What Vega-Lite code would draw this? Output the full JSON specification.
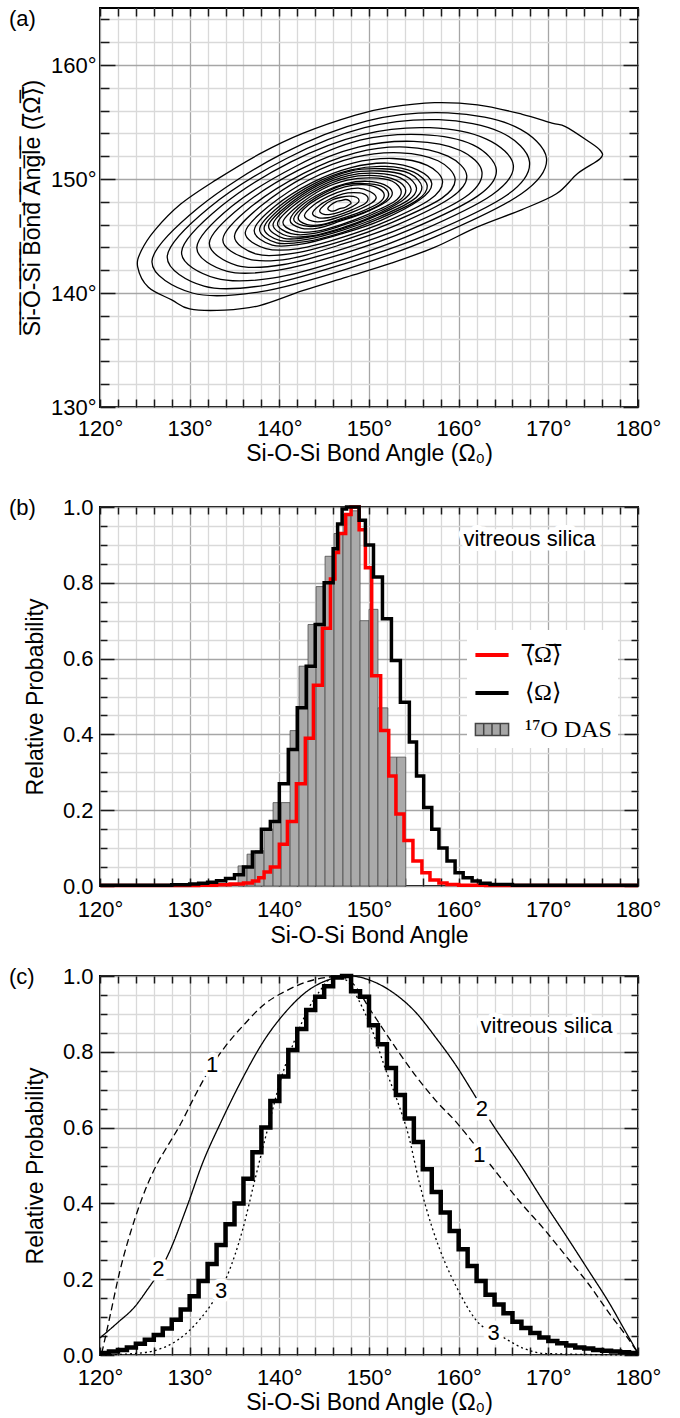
{
"$schema": "https://vega.github.io/schema/vega-lite/v6.json",
"background": "white",
"padding": {"left": 8, "top": 6, "right": 4, "bottom": 0},
"config": {
  "view": {"stroke": "#000", "strokeWidth": 2},
  "axis": {"domain": false, "labelFont": "Liberation Sans", "labelFontSize": 22, "labelColor": "#000", "titleFont": "Liberation Sans", "titleFontSize": 23, "titleFontWeight": "normal", "titleColor": "#000", "tickColor": "#1a1a1a", "tickWidth": 1.5, "gridWidth": 1.3, "labelOverlap": false, "labelBound": false, "labelFlush": false},
  "title": {"anchor": "start", "frame": "group", "dx": -91, "dy": 22, "baseline": "top", "offset": -2, "font": "Liberation Sans", "fontSize": 22, "fontWeight": "normal", "color": "#000"}
},
"datasets": {
"contours": [
{"c":0,"x":124.2,"y":142.3},{"c":0,"x":125.4,"y":140.5},{"c":0,"x":128.0,"y":139.4},{"c":0,"x":130.0,"y":138.6},{"c":0,"x":133.9,"y":138.5},{"c":0,"x":137.8,"y":138.9},{"c":0,"x":142.6,"y":140.2},{"c":0,"x":147.5,"y":141.4},{"c":0,"x":152.4,"y":142.6},{"c":0,"x":157.3,"y":144.0},{"c":0,"x":162.1,"y":145.8},{"c":0,"x":167.0,"y":147.3},{"c":0,"x":170.9,"y":148.7},{"c":0,"x":173.3,"y":150.5},{"c":0,"x":175.8,"y":151.8},{"c":0,"x":175.8,"y":152.5},{"c":0,"x":174.3,"y":153.4},{"c":0,"x":171.9,"y":154.6},{"c":0,"x":170.4,"y":154.9},{"c":0,"x":167.0,"y":155.7},{"c":0,"x":162.1,"y":156.5},{"c":0,"x":157.3,"y":156.7},{"c":0,"x":152.4,"y":156.3},{"c":0,"x":148.5,"y":155.6},{"c":0,"x":142.6,"y":154.0},{"c":0,"x":137.8,"y":152.2},{"c":0,"x":132.9,"y":149.9},{"c":0,"x":129.0,"y":147.8},{"c":0,"x":126.1,"y":145.5},{"c":0,"x":124.6,"y":143.7},
{"c":1,"x":169.8,"y":151.8},{"c":1,"x":166.3,"y":154.6},{"c":1,"x":158.8,"y":155.8},{"c":1,"x":149.8,"y":155.1},{"c":1,"x":140.3,"y":152.2},{"c":1,"x":131.0,"y":147.5},{"c":1,"x":125.8,"y":142.8},{"c":1,"x":130.3,"y":140.0},{"c":1,"x":137.8,"y":140.1},{"c":1,"x":147.5,"y":142.1},{"c":1,"x":157.3,"y":144.9},{"c":1,"x":167.0,"y":148.7},
{"c":2,"x":167.9,"y":151.5},{"c":2,"x":164.7,"y":154.1},{"c":2,"x":157.8,"y":155.2},{"c":2,"x":149.5,"y":154.5},{"c":2,"x":140.8,"y":151.8},{"c":2,"x":132.2,"y":147.5},{"c":2,"x":127.5,"y":143.2},{"c":2,"x":131.6,"y":140.6},{"c":2,"x":138.5,"y":140.7},{"c":2,"x":147.4,"y":142.6},{"c":2,"x":156.4,"y":145.1},{"c":2,"x":165.4,"y":148.6},
{"c":3,"x":166.1,"y":151.2},{"c":3,"x":163.1,"y":153.5},{"c":3,"x":156.8,"y":154.5},{"c":3,"x":149.3,"y":153.9},{"c":3,"x":141.3,"y":151.5},{"c":3,"x":133.5,"y":147.6},{"c":3,"x":129.1,"y":143.6},{"c":3,"x":132.9,"y":141.3},{"c":3,"x":139.2,"y":141.3},{"c":3,"x":147.4,"y":143.0},{"c":3,"x":155.6,"y":145.4},{"c":3,"x":163.7,"y":148.6},
{"c":4,"x":164.2,"y":150.8},{"c":4,"x":161.6,"y":153.0},{"c":4,"x":155.9,"y":153.9},{"c":4,"x":149.0,"y":153.4},{"c":4,"x":141.8,"y":151.1},{"c":4,"x":134.7,"y":147.6},{"c":4,"x":130.8,"y":144.0},{"c":4,"x":134.2,"y":141.9},{"c":4,"x":139.9,"y":142.0},{"c":4,"x":147.3,"y":143.5},{"c":4,"x":154.7,"y":145.6},{"c":4,"x":162.1,"y":148.5},
{"c":5,"x":162.6,"y":150.6},{"c":5,"x":160.2,"y":152.5},{"c":5,"x":155.0,"y":153.3},{"c":5,"x":148.8,"y":152.8},{"c":5,"x":142.2,"y":150.8},{"c":5,"x":135.8,"y":147.6},{"c":5,"x":132.2,"y":144.4},{"c":5,"x":135.3,"y":142.4},{"c":5,"x":140.5,"y":142.5},{"c":5,"x":147.2,"y":143.9},{"c":5,"x":154.0,"y":145.8},{"c":5,"x":160.7,"y":148.4},
{"c":6,"x":160.9,"y":150.3},{"c":6,"x":158.8,"y":152.0},{"c":6,"x":154.1,"y":152.8},{"c":6,"x":148.5,"y":152.3},{"c":6,"x":142.7,"y":150.5},{"c":6,"x":136.9,"y":147.6},{"c":6,"x":133.7,"y":144.7},{"c":6,"x":136.5,"y":143.0},{"c":6,"x":141.1,"y":143.0},{"c":6,"x":147.1,"y":144.3},{"c":6,"x":153.2,"y":146.0},{"c":6,"x":159.2,"y":148.4},
{"c":7,"x":159.6,"y":150.0},{"c":7,"x":157.7,"y":151.6},{"c":7,"x":153.5,"y":152.3},{"c":7,"x":148.4,"y":151.9},{"c":7,"x":143.1,"y":150.3},{"c":7,"x":137.9,"y":147.6},{"c":7,"x":135.0,"y":145.0},{"c":7,"x":137.5,"y":143.4},{"c":7,"x":141.7,"y":143.5},{"c":7,"x":147.1,"y":144.6},{"c":7,"x":152.6,"y":146.2},{"c":7,"x":158.1,"y":148.3},
{"c":8,"x":158.2,"y":149.8},{"c":8,"x":156.5,"y":151.2},{"c":8,"x":152.7,"y":151.8},{"c":8,"x":148.2,"y":151.4},{"c":8,"x":143.5,"y":150.0},{"c":8,"x":138.8,"y":147.6},{"c":8,"x":136.2,"y":145.3},{"c":8,"x":138.5,"y":143.9},{"c":8,"x":142.2,"y":143.9},{"c":8,"x":147.1,"y":144.9},{"c":8,"x":152.0,"y":146.3},{"c":8,"x":156.8,"y":148.2},
{"c":9,"x":157.0,"y":149.6},{"c":9,"x":155.4,"y":150.8},{"c":9,"x":152.1,"y":151.4},{"c":9,"x":148.0,"y":151.0},{"c":9,"x":143.7,"y":149.7},{"c":9,"x":139.5,"y":147.6},{"c":9,"x":137.2,"y":145.5},{"c":9,"x":139.2,"y":144.2},{"c":9,"x":142.6,"y":144.3},{"c":9,"x":147.0,"y":145.2},{"c":9,"x":151.4,"y":146.4},{"c":9,"x":155.7,"y":148.2},
{"c":10,"x":155.9,"y":149.3},{"c":10,"x":154.5,"y":150.5},{"c":10,"x":151.5,"y":150.9},{"c":10,"x":147.9,"y":150.7},{"c":10,"x":144.1,"y":149.5},{"c":10,"x":140.4,"y":147.6},{"c":10,"x":138.3,"y":145.7},{"c":10,"x":140.1,"y":144.6},{"c":10,"x":143.1,"y":144.7},{"c":10,"x":147.0,"y":145.5},{"c":10,"x":150.9,"y":146.6},{"c":10,"x":154.8,"y":148.1},
{"c":11,"x":154.7,"y":149.1},{"c":11,"x":153.5,"y":150.1},{"c":11,"x":150.9,"y":150.5},{"c":11,"x":147.7,"y":150.3},{"c":11,"x":144.4,"y":149.3},{"c":11,"x":141.1,"y":147.6},{"c":11,"x":139.3,"y":146.0},{"c":11,"x":140.9,"y":145.0},{"c":11,"x":143.5,"y":145.0},{"c":11,"x":146.9,"y":145.7},{"c":11,"x":150.3,"y":146.7},{"c":11,"x":153.7,"y":148.1},
{"c":12,"x":153.6,"y":148.9},{"c":12,"x":152.6,"y":149.8},{"c":12,"x":150.3,"y":150.1},{"c":12,"x":147.6,"y":149.9},{"c":12,"x":144.8,"y":149.1},{"c":12,"x":142.0,"y":147.6},{"c":12,"x":140.4,"y":146.2},{"c":12,"x":141.8,"y":145.4},{"c":12,"x":144.0,"y":145.4},{"c":12,"x":146.9,"y":146.0},{"c":12,"x":149.9,"y":146.9},{"c":12,"x":152.8,"y":148.0},
{"c":13,"x":152.6,"y":148.8},{"c":13,"x":151.7,"y":149.5},{"c":13,"x":149.8,"y":149.8},{"c":13,"x":147.4,"y":149.6},{"c":13,"x":145.0,"y":148.9},{"c":13,"x":142.5,"y":147.7},{"c":13,"x":141.2,"y":146.4},{"c":13,"x":142.4,"y":145.7},{"c":13,"x":144.3,"y":145.7},{"c":13,"x":146.8,"y":146.3},{"c":13,"x":149.4,"y":147.0},{"c":13,"x":151.9,"y":148.0},
{"c":14,"x":151.7,"y":148.6},{"c":14,"x":151.0,"y":149.2},{"c":14,"x":149.3,"y":149.5},{"c":14,"x":147.3,"y":149.3},{"c":14,"x":145.3,"y":148.7},{"c":14,"x":143.2,"y":147.7},{"c":14,"x":142.1,"y":146.6},{"c":14,"x":143.1,"y":146.0},{"c":14,"x":144.7,"y":146.0},{"c":14,"x":146.8,"y":146.5},{"c":14,"x":149.0,"y":147.1},{"c":14,"x":151.1,"y":147.9},
{"c":15,"x":150.8,"y":148.4},{"c":15,"x":150.1,"y":148.9},{"c":15,"x":148.8,"y":149.2},{"c":15,"x":147.2,"y":149.0},{"c":15,"x":145.5,"y":148.5},{"c":15,"x":143.8,"y":147.7},{"c":15,"x":142.8,"y":146.8},{"c":15,"x":143.7,"y":146.3},{"c":15,"x":145.0,"y":146.3},{"c":15,"x":146.8,"y":146.7},{"c":15,"x":148.5,"y":147.2},{"c":15,"x":150.3,"y":147.9},
{"c":16,"x":149.9,"y":148.3},{"c":16,"x":149.4,"y":148.7},{"c":16,"x":148.3,"y":148.8},{"c":16,"x":147.1,"y":148.7},{"c":16,"x":145.8,"y":148.3},{"c":16,"x":144.5,"y":147.7},{"c":16,"x":143.7,"y":147.0},{"c":16,"x":144.4,"y":146.6},{"c":16,"x":145.4,"y":146.6},{"c":16,"x":146.8,"y":146.9},{"c":16,"x":148.1,"y":147.3},{"c":16,"x":149.5,"y":147.8},
{"c":17,"x":148.9,"y":148.1},{"c":17,"x":148.6,"y":148.4},{"c":17,"x":147.8,"y":148.5},{"c":17,"x":146.9,"y":148.4},{"c":17,"x":146.0,"y":148.2},{"c":17,"x":145.0,"y":147.7},{"c":17,"x":144.5,"y":147.2},{"c":17,"x":145.0,"y":146.9},{"c":17,"x":145.7,"y":146.9},{"c":17,"x":146.7,"y":147.1},{"c":17,"x":147.7,"y":147.4},{"c":17,"x":148.6,"y":147.8},
{"c":18,"x":148.0,"y":147.9},{"c":18,"x":147.8,"y":148.1},{"c":18,"x":147.4,"y":148.2},{"c":18,"x":146.8,"y":148.1},{"c":18,"x":146.3,"y":148.0},{"c":18,"x":145.7,"y":147.7},{"c":18,"x":145.4,"y":147.4},{"c":18,"x":145.7,"y":147.2},{"c":18,"x":146.1,"y":147.2},{"c":18,"x":146.7,"y":147.4},{"c":18,"x":147.3,"y":147.5},{"c":18,"x":147.9,"y":147.8},
{"c":19,"x":156.5,"y":149.4},{"c":19,"x":155.0,"y":150.6},{"c":19,"x":151.8,"y":151.1},{"c":19,"x":148.0,"y":150.8},{"c":19,"x":143.9,"y":149.6},{"c":19,"x":140.0,"y":147.6},{"c":19,"x":137.8,"y":145.6},{"c":19,"x":139.7,"y":144.4},{"c":19,"x":142.9,"y":144.5},{"c":19,"x":147.0,"y":145.3},{"c":19,"x":151.1,"y":146.5},{"c":19,"x":155.3,"y":148.1},
{"c":20,"x":155.3,"y":149.2},{"c":20,"x":154.0,"y":150.3},{"c":20,"x":151.2,"y":150.7},{"c":20,"x":147.8,"y":150.5},{"c":20,"x":144.2,"y":149.4},{"c":20,"x":140.8,"y":147.6},{"c":20,"x":138.8,"y":145.9},{"c":20,"x":140.5,"y":144.8},{"c":20,"x":143.3,"y":144.9},{"c":20,"x":146.9,"y":145.6},{"c":20,"x":150.6,"y":146.7},{"c":20,"x":154.3,"y":148.1},
{"c":21,"x":154.1,"y":149.0},{"c":21,"x":153.0,"y":149.9},{"c":21,"x":150.6,"y":150.3},{"c":21,"x":147.6,"y":150.1},{"c":21,"x":144.6,"y":149.2},{"c":21,"x":141.5,"y":147.6},{"c":21,"x":139.8,"y":146.1},{"c":21,"x":141.3,"y":145.2},{"c":21,"x":143.7,"y":145.2},{"c":21,"x":146.9,"y":145.9},{"c":21,"x":150.1,"y":146.8},{"c":21,"x":153.2,"y":148.0},
{"c":22,"x":152.2,"y":148.7},{"c":22,"x":151.3,"y":149.4},{"c":22,"x":149.5,"y":149.6},{"c":22,"x":147.4,"y":149.5},{"c":22,"x":145.1,"y":148.8},{"c":22,"x":142.9,"y":147.7},{"c":22,"x":141.6,"y":146.5},{"c":22,"x":142.7,"y":145.9},{"c":22,"x":144.5,"y":145.9},{"c":22,"x":146.8,"y":146.4},{"c":22,"x":149.2,"y":147.0},{"c":22,"x":151.5,"y":147.9}
],
"das": [
{"b":135.4,"e":136.4,"v":0.053},{"b":136.4,"e":137.3,"v":0.084},{"b":137.3,"e":138.3,"v":0.093},{"b":138.3,"e":139.3,"v":0.15},{"b":139.3,"e":140.2,"v":0.22},{"b":140.2,"e":141.2,"v":0.22},{"b":141.2,"e":142.2,"v":0.41},{"b":142.2,"e":143.2,"v":0.58},{"b":143.2,"e":144.1,"v":0.69},{"b":144.1,"e":145.1,"v":0.79},{"b":145.1,"e":146.1,"v":0.87},{"b":146.1,"e":147.1,"v":0.93},{"b":147.1,"e":148.0,"v":0.98},{"b":148.0,"e":149.0,"v":0.99},{"b":149.0,"e":150.0,"v":0.70},{"b":150.0,"e":151.0,"v":0.73},{"b":151.0,"e":152.1,"v":0.47},{"b":152.1,"e":153.1,"v":0.34},{"b":153.1,"e":154.1,"v":0.34}
],
"series": [{"s":"a"},{"s":"b"},{"s":"c"}],
"blines": [
{"s":"a","x":120,"y":0.001},{"s":"a","x":131,"y":0.002},{"s":"a","x":133,"y":0.003},{"s":"a","x":134.5,"y":0.005},{"s":"a","x":136,"y":0.008},{"s":"a","x":137,"y":0.013},{"s":"a","x":137.7,"y":0.022},{"s":"a","x":138.3,"y":0.037},{"s":"a","x":139,"y":0.05},{"s":"a","x":140,"y":0.11},{"s":"a","x":140.9,"y":0.17},{"s":"a","x":141.9,"y":0.27},{"s":"a","x":142.9,"y":0.39},{"s":"a","x":143.8,"y":0.53},{"s":"a","x":144.8,"y":0.68},{"s":"a","x":145.7,"y":0.81},{"s":"a","x":146.2,"y":0.88},{"s":"a","x":146.6,"y":0.93},{"s":"a","x":147.4,"y":0.98},{"s":"a","x":148,"y":1.0},{"s":"a","x":148.9,"y":0.94},{"s":"a","x":149.6,"y":0.84},{"s":"a","x":150.3,"y":0.555},{"s":"a","x":151.3,"y":0.41},{"s":"a","x":152.2,"y":0.29},{"s":"a","x":153,"y":0.19},{"s":"a","x":153.9,"y":0.12},{"s":"a","x":154.9,"y":0.066},{"s":"a","x":155.9,"y":0.035},{"s":"a","x":156.8,"y":0.016},{"s":"a","x":157.8,"y":0.008},{"s":"a","x":158.7,"y":0.004},{"s":"a","x":160,"y":0.002},{"s":"a","x":163,"y":0.001},{"s":"a","x":180,"y":0.001},
{"s":"b","x":120,"y":0.002},{"s":"b","x":128,"y":0.003},{"s":"b","x":130,"y":0.005},{"s":"b","x":131,"y":0.007},{"s":"b","x":132,"y":0.01},{"s":"b","x":133,"y":0.014},{"s":"b","x":134,"y":0.02},{"s":"b","x":135,"y":0.03},{"s":"b","x":136,"y":0.05},{"s":"b","x":137,"y":0.09},{"s":"b","x":138,"y":0.15},{"s":"b","x":139,"y":0.17},{"s":"b","x":140,"y":0.27},{"s":"b","x":141,"y":0.36},{"s":"b","x":142,"y":0.47},{"s":"b","x":143,"y":0.58},{"s":"b","x":144,"y":0.69},{"s":"b","x":145,"y":0.80},{"s":"b","x":146,"y":0.89},{"s":"b","x":146.5,"y":0.955},{"s":"b","x":147,"y":0.995},{"s":"b","x":147.5,"y":1.0},{"s":"b","x":148.9,"y":0.965},{"s":"b","x":149.6,"y":0.90},{"s":"b","x":150.5,"y":0.815},{"s":"b","x":151.5,"y":0.705},{"s":"b","x":152.5,"y":0.595},{"s":"b","x":153.5,"y":0.485},{"s":"b","x":154.5,"y":0.38},{"s":"b","x":155.3,"y":0.29},{"s":"b","x":156.1,"y":0.207},{"s":"b","x":157,"y":0.15},{"s":"b","x":157.8,"y":0.10},{"s":"b","x":158.7,"y":0.066},{"s":"b","x":159.6,"y":0.035},{"s":"b","x":160.5,"y":0.022},{"s":"b","x":161.5,"y":0.013},{"s":"b","x":162.4,"y":0.007},{"s":"b","x":163.5,"y":0.004},{"s":"b","x":166,"y":0.002},{"s":"b","x":180,"y":0.002}
],
"csteps": [
{"x":120,"y":0.005},{"x":121,"y":0.009},{"x":122,"y":0.013},{"x":123,"y":0.02},{"x":124,"y":0.03},{"x":125,"y":0.04},{"x":126,"y":0.053},{"x":127,"y":0.07},{"x":128,"y":0.093},{"x":129,"y":0.12},{"x":130,"y":0.155},{"x":131,"y":0.195},{"x":132,"y":0.24},{"x":133,"y":0.29},{"x":134,"y":0.345},{"x":135,"y":0.40},{"x":136,"y":0.465},{"x":137,"y":0.535},{"x":138,"y":0.60},{"x":139,"y":0.67},{"x":140,"y":0.735},{"x":141,"y":0.805},{"x":142,"y":0.86},{"x":143,"y":0.91},{"x":144,"y":0.945},{"x":145,"y":0.973},{"x":146,"y":0.996},{"x":147,"y":1.0},{"x":148,"y":0.96},{"x":149,"y":0.945},{"x":150,"y":0.87},{"x":151,"y":0.82},{"x":152,"y":0.757},{"x":153,"y":0.686},{"x":154,"y":0.624},{"x":155,"y":0.562},{"x":156,"y":0.49},{"x":157,"y":0.43},{"x":158,"y":0.376},{"x":159,"y":0.327},{"x":160,"y":0.279},{"x":161,"y":0.235},{"x":162,"y":0.195},{"x":163,"y":0.159},{"x":164,"y":0.133},{"x":165,"y":0.11},{"x":166,"y":0.088},{"x":167,"y":0.071},{"x":168,"y":0.058},{"x":169,"y":0.046},{"x":170,"y":0.037},{"x":171,"y":0.031},{"x":172,"y":0.025},{"x":173,"y":0.02},{"x":174,"y":0.017},{"x":175,"y":0.013},{"x":176,"y":0.011},{"x":177,"y":0.009},{"x":178,"y":0.007},{"x":179,"y":0.005},{"x":180,"y":0.005}
],
"ccurves": [
{"k":"1","x":120.2,"y":0.005},{"k":"1","x":121,"y":0.09},{"k":"1","x":122.2,"y":0.22},{"k":"1","x":123.9,"y":0.36},{"k":"1","x":125.3,"y":0.45},{"k":"1","x":126.5,"y":0.51},{"k":"1","x":127.5,"y":0.55},{"k":"1","x":129,"y":0.61},{"k":"1","x":130.5,"y":0.68},{"k":"1","x":132,"y":0.745},{"k":"1","x":134,"y":0.815},{"k":"1","x":136,"y":0.87},{"k":"1","x":138.3,"y":0.925},{"k":"1","x":140.7,"y":0.96},{"k":"1","x":143.1,"y":0.985},{"k":"1","x":145.5,"y":0.997},{"k":"1","x":146.5,"y":1.0},{"k":"1","x":148,"y":0.985},{"k":"1","x":150.3,"y":0.905},{"k":"1","x":152.7,"y":0.82},{"k":"1","x":155.1,"y":0.74},{"k":"1","x":157.5,"y":0.67},{"k":"1","x":159.9,"y":0.61},{"k":"1","x":161.1,"y":0.575},{"k":"1","x":163.6,"y":0.50},{"k":"1","x":167.2,"y":0.394},{"k":"1","x":169.6,"y":0.33},{"k":"1","x":172,"y":0.26},{"k":"1","x":174.4,"y":0.19},{"k":"1","x":176.8,"y":0.11},{"k":"1","x":178.7,"y":0.05},{"k":"1","x":180,"y":0.005},
{"k":"2","x":120,"y":0.045},{"k":"2","x":121.9,"y":0.084},{"k":"2","x":123.9,"y":0.128},{"k":"2","x":125.3,"y":0.173},{"k":"2","x":126.5,"y":0.215},{"k":"2","x":127.7,"y":0.27},{"k":"2","x":129.6,"y":0.385},{"k":"2","x":131.5,"y":0.51},{"k":"2","x":133.5,"y":0.615},{"k":"2","x":135.9,"y":0.73},{"k":"2","x":138.3,"y":0.83},{"k":"2","x":140.7,"y":0.905},{"k":"2","x":143.1,"y":0.96},{"k":"2","x":145.5,"y":0.99},{"k":"2","x":147.9,"y":1.0},{"k":"2","x":150.3,"y":0.987},{"k":"2","x":152.7,"y":0.956},{"k":"2","x":155.1,"y":0.907},{"k":"2","x":157.5,"y":0.836},{"k":"2","x":159.9,"y":0.757},{"k":"2","x":161.4,"y":0.70},{"k":"2","x":163.6,"y":0.615},{"k":"2","x":167.2,"y":0.49},{"k":"2","x":169.6,"y":0.40},{"k":"2","x":172,"y":0.314},{"k":"2","x":174.4,"y":0.226},{"k":"2","x":176.8,"y":0.137},{"k":"2","x":178.7,"y":0.058},{"k":"2","x":180,"y":0.005},
{"k":"3","x":120,"y":0.0},{"k":"3","x":123.9,"y":0.004},{"k":"3","x":126.3,"y":0.013},{"k":"3","x":128.7,"y":0.04},{"k":"3","x":131.1,"y":0.093},{"k":"3","x":132.5,"y":0.137},{"k":"3","x":134.2,"y":0.21},{"k":"3","x":135.9,"y":0.33},{"k":"3","x":137.3,"y":0.465},{"k":"3","x":138.8,"y":0.606},{"k":"3","x":140.2,"y":0.73},{"k":"3","x":141.7,"y":0.83},{"k":"3","x":143.1,"y":0.907},{"k":"3","x":144.5,"y":0.96},{"k":"3","x":146,"y":0.996},{"k":"3","x":147.4,"y":0.99},{"k":"3","x":148.9,"y":0.934},{"k":"3","x":150.3,"y":0.86},{"k":"3","x":151.8,"y":0.757},{"k":"3","x":153.2,"y":0.668},{"k":"3","x":154.4,"y":0.58},{"k":"3","x":155.6,"y":0.456},{"k":"3","x":157.1,"y":0.332},{"k":"3","x":158.5,"y":0.243},{"k":"3","x":159.9,"y":0.173},{"k":"3","x":161.9,"y":0.093},{"k":"3","x":164.8,"y":0.049},{"k":"3","x":167.2,"y":0.018},{"k":"3","x":169.6,"y":0.004},{"k":"3","x":180,"y":0.0}
],
"clabels": [
{"t":"1","x":132.5,"y":0.765},{"t":"2","x":126.5,"y":0.226},{"t":"3","x":133.5,"y":0.168},{"t":"2","x":162.6,"y":0.65},{"t":"1","x":162.3,"y":0.527},{"t":"3","x":163.9,"y":0.058},{"t":"vitreous silica","x":169.8,"y":0.867}
],
"blabels": [
{"t":"vitreous silica","x":167.9,"y":0.916}
]
},
"bounds": "flush",
"spacing": 100,
"vconcat": [
{
 "width": 538, "height": 399,
 "title": {"text": "(a)"},
 "layer": [
  {"data": {"name": "contours"},
   "transform": [{"window": [{"op": "row_number", "as": "n"}]}],
   "mark": {"type": "line", "interpolate": "cardinal-closed", "stroke": "#000", "strokeWidth": 1.3},
   "encoding": {
    "x": {"field": "x", "type": "quantitative", "scale": {"domain": [120, 180], "nice": false, "zero": false},
      "axis": {"orient": "bottom", "values": [120,122,124,126,128,130,132,134,136,138,140,142,144,146,148,150,152,154,156,158,160,162,164,166,168,170,172,174,176,178,180], "labelExpr": "datum.value % 10 === 0 ? datum.value + '°' : ''", "tickSize": -8, "labelPadding": 19, "grid": true, "gridColor": {"condition": {"test": "datum.value % 10 === 0", "value": "#a6a6a6"}, "value": "#d9d9d9"}, "title": "Si-O-Si Bond Angle (Ω₀)", "titlePadding": 3}},
    "y": {"field": "y", "type": "quantitative", "scale": {"domain": [130, 165], "nice": false, "zero": false},
      "axis": {"orient": "left", "values": [130,132,134,136,138,140,142,144,146,148,150,152,154,156,158,160,162,164], "labelExpr": "datum.value % 10 === 0 ? datum.value + '°' : ''", "tickSize": {"condition": {"test": "datum.value % 10 === 0", "value": -15}, "value": -9}, "labelPadding": 19, "grid": true, "gridColor": {"condition": {"test": "datum.value % 10 === 0", "value": "#a6a6a6"}, "value": "#d9d9d9"}, "title": "S\u0305i\u0305-\u0305O\u0305-\u0305S\u0305i\u0305 \u0305B\u0305o\u0305n\u0305d\u0305 \u0305A\u0305n\u0305g\u0305l\u0305e\u0305  (\u27e8\u0305\u03a9\u0305\u27e9\u0305)", "titlePadding": 6}},
    "detail": {"field": "c", "type": "nominal"},
    "order": {"field": "n", "type": "quantitative"}
   }},
  {"data": {"name": "contours"},
   "mark": {"type": "point", "opacity": 0},
   "encoding": {
    "x": {"field": "x", "type": "quantitative", "axis": {"orient": "top", "values": [120,122,124,126,128,130,132,134,136,138,140,142,144,146,148,150,152,154,156,158,160,162,164,166,168,170,172,174,176,178,180], "labels": false, "grid": false, "title": null, "tickSize": -8}},
    "y": {"field": "y", "type": "quantitative", "axis": {"orient": "right", "values": [130,132,134,136,138,140,142,144,146,148,150,152,154,156,158,160,162,164], "labels": false, "grid": false, "title": null, "tickSize": {"condition": {"test": "datum.value % 10 === 0", "value": -15}, "value": -9}}}
   }}
 ],
 "resolve": {"axis": {"x": "independent", "y": "independent"}}
},
{
 "bounds": "flush",
 "spacing": 90,
 "vconcat": [
 {
  "width": 538, "height": 379,
  "title": {"text": "(b)"},
  "layer": [
   {"data": {"name": "das"},
    "mark": {"type": "rect", "fill": "#aaaaaa", "stroke": "#4d4d4d", "strokeWidth": 0.8},
    "encoding": {
     "x": {"field": "b", "type": "quantitative", "scale": {"domain": [120, 180], "nice": false, "zero": false},
       "axis": {"orient": "bottom", "values": [120,122,124,126,128,130,132,134,136,138,140,142,144,146,148,150,152,154,156,158,160,162,164,166,168,170,172,174,176,178,180], "labelExpr": "datum.value % 10 === 0 ? datum.value + '°' : ''", "tickSize": -8, "labelPadding": 21, "grid": true, "gridColor": {"condition": {"test": "datum.value % 10 === 0", "value": "#a6a6a6"}, "value": "#d9d9d9"}, "title": "Si-O-Si Bond Angle", "titlePadding": 4}},
     "x2": {"field": "e"},
     "y": {"field": "v", "type": "quantitative", "scale": {"domain": [0, 1], "nice": false},
       "axis": {"orient": "left", "values": [0,0.05,0.1,0.15,0.2,0.25,0.3,0.35,0.4,0.45,0.5,0.55,0.6,0.65,0.7,0.75,0.8,0.85,0.9,0.95,1], "labelExpr": "round(datum.value*100) % 20 === 0 ? format(datum.value, '.1f') : ''", "tickSize": {"condition": {"test": "round(datum.value*100) % 20 === 0", "value": -14}, "value": -7}, "labelPadding": 21, "grid": true, "gridColor": {"condition": {"test": "round(datum.value*100) % 20 === 0", "value": "#a6a6a6"}, "value": "#d9d9d9"}, "title": "Relative Probability", "titlePadding": 15}},
     "y2": {"datum": 0}
    }},
   {"data": {"name": "blines"},
    "mark": {"type": "line", "interpolate": "step-after", "strokeWidth": 3.5},
    "encoding": {
     "x": {"field": "x", "type": "quantitative", "axis": null},
     "y": {"field": "y", "type": "quantitative", "axis": null},
     "color": {"field": "s", "type": "nominal", "scale": {"domain": ["a", "b"], "range": ["#ff0000", "#000000"]}, "legend": null}
    }},
   {"data": {"name": "series"},
    "mark": {"type": "point", "opacity": 0, "filled": false},
    "encoding": {
     "shape": {"field": "s", "type": "nominal", "scale": {"domain": ["a", "b", "c"], "range": ["stroke", "stroke", "M-1,-0.36H1V0.36H-1Z M-0.5,-0.36V0.36 M0,-0.36V0.36 M0.5,-0.36V0.36"]},
       "legend": {"title": null, "orient": "none", "legendX": 367, "legendY": 622, "fillColor": "white", "padding": 6, "symbolSize": 1100, "symbolOpacity": 1, "labelFont": "Liberation Serif", "labelFontSize": 24, "labelColor": "#000", "labelOffset": 14, "rowPadding": 7, "labelExpr": "datum.value === 'a' ? '\u27e8\u0305\u03a9\u0305\u27e9\u0305' : datum.value === 'b' ? '\u27e8\u03a9\u27e9' : '\u00b9\u2077O DAS'"}},
     "fill": {"field": "s", "type": "nominal", "scale": {"domain": ["a", "b", "c"], "range": ["transparent", "transparent", "#a6a6a6"]},
       "legend": {"title": null, "orient": "none", "legendX": 367, "legendY": 622, "fillColor": "white", "padding": 6, "symbolSize": 1100, "symbolOpacity": 1, "labelFont": "Liberation Serif", "labelFontSize": 24, "labelColor": "#000", "labelOffset": 14, "rowPadding": 7, "labelExpr": "datum.value === 'a' ? '\u27e8\u0305\u03a9\u0305\u27e9\u0305' : datum.value === 'b' ? '\u27e8\u03a9\u27e9' : '\u00b9\u2077O DAS'"}},
     "stroke": {"field": "s", "type": "nominal", "scale": {"domain": ["a", "b", "c"], "range": ["#ff0000", "#000000", "#444444"]},
       "legend": {"title": null, "orient": "none", "legendX": 367, "legendY": 622, "fillColor": "white", "padding": 6, "symbolSize": 1100, "symbolOpacity": 1, "labelFont": "Liberation Serif", "labelFontSize": 24, "labelColor": "#000", "labelOffset": 14, "rowPadding": 7, "labelExpr": "datum.value === 'a' ? '\u27e8\u0305\u03a9\u0305\u27e9\u0305' : datum.value === 'b' ? '\u27e8\u03a9\u27e9' : '\u00b9\u2077O DAS'"}},
     "strokeWidth": {"field": "s", "type": "nominal", "scale": {"type": "ordinal", "domain": ["a", "b", "c"], "range": [4, 4, 1.5]},
       "legend": {"title": null, "orient": "none", "legendX": 367, "legendY": 622, "fillColor": "white", "padding": 6, "symbolSize": 1100, "symbolOpacity": 1, "labelFont": "Liberation Serif", "labelFontSize": 24, "labelColor": "#000", "labelOffset": 14, "rowPadding": 7, "labelExpr": "datum.value === 'a' ? '\u27e8\u0305\u03a9\u0305\u27e9\u0305' : datum.value === 'b' ? '\u27e8\u03a9\u27e9' : '\u00b9\u2077O DAS'"}}
    }},
   {"data": {"name": "blabels"},
    "mark": {"type": "text", "font": "Liberation Sans", "fontSize": 22, "fill": "white", "stroke": "white", "strokeWidth": 10, "strokeJoin": "round"},
    "encoding": {"x": {"field": "x", "type": "quantitative", "axis": null}, "y": {"field": "y", "type": "quantitative", "axis": null}, "text": {"field": "t"}}},
   {"data": {"name": "blabels"},
    "mark": {"type": "text", "font": "Liberation Sans", "fontSize": 22, "fill": "#000"},
    "encoding": {"x": {"field": "x", "type": "quantitative", "axis": null}, "y": {"field": "y", "type": "quantitative", "axis": null}, "text": {"field": "t"}}},
   {"data": {"name": "blines"},
    "mark": {"type": "point", "opacity": 0},
    "encoding": {
     "x": {"field": "x", "type": "quantitative", "axis": {"orient": "top", "values": [120,122,124,126,128,130,132,134,136,138,140,142,144,146,148,150,152,154,156,158,160,162,164,166,168,170,172,174,176,178,180], "labels": false, "grid": false, "title": null, "tickSize": -7}},
     "y": {"field": "y", "type": "quantitative", "axis": {"orient": "right", "values": [0,0.05,0.1,0.15,0.2,0.25,0.3,0.35,0.4,0.45,0.5,0.55,0.6,0.65,0.7,0.75,0.8,0.85,0.9,0.95,1], "labels": false, "grid": false, "title": null, "tickSize": {"condition": {"test": "round(datum.value*100) % 20 === 0", "value": -14}, "value": -7}}}
    }}
  ],
  "resolve": {"axis": {"x": "independent", "y": "independent"}}
 },
 {
  "width": 538, "height": 379,
  "title": {"text": "(c)"},
  "layer": [
   {"data": {"name": "csteps"},
    "mark": {"type": "line", "interpolate": "step-after", "stroke": "#000", "strokeWidth": 4.5},
    "encoding": {
     "x": {"field": "x", "type": "quantitative", "scale": {"domain": [120, 180], "nice": false, "zero": false},
       "axis": {"orient": "bottom", "values": [120,122,124,126,128,130,132,134,136,138,140,142,144,146,148,150,152,154,156,158,160,162,164,166,168,170,172,174,176,178,180], "labelExpr": "datum.value % 10 === 0 ? datum.value + '°' : ''", "tickSize": -8, "labelPadding": 20, "grid": true, "gridColor": {"condition": {"test": "datum.value % 10 === 0", "value": "#a6a6a6"}, "value": "#d9d9d9"}, "title": "Si-O-Si Bond Angle (Ω₀)", "titlePadding": 3}},
     "y": {"field": "y", "type": "quantitative", "scale": {"domain": [0, 1], "nice": false},
       "axis": {"orient": "left", "values": [0,0.05,0.1,0.15,0.2,0.25,0.3,0.35,0.4,0.45,0.5,0.55,0.6,0.65,0.7,0.75,0.8,0.85,0.9,0.95,1], "labelExpr": "round(datum.value*100) % 20 === 0 ? format(datum.value, '.1f') : ''", "tickSize": {"condition": {"test": "round(datum.value*100) % 20 === 0", "value": -14}, "value": -7}, "labelPadding": 21, "grid": true, "gridColor": {"condition": {"test": "round(datum.value*100) % 20 === 0", "value": "#a6a6a6"}, "value": "#d9d9d9"}, "title": "Relative Probability", "titlePadding": 15}}
    }},
   {"data": {"name": "ccurves"},
    "mark": {"type": "line", "interpolate": "monotone", "stroke": "#000", "strokeWidth": 1.3},
    "encoding": {
     "x": {"field": "x", "type": "quantitative", "axis": null},
     "y": {"field": "y", "type": "quantitative", "axis": null},
     "strokeDash": {"field": "k", "type": "nominal", "scale": {"domain": ["1", "2", "3"], "range": [[7, 4], [1, 0], [2, 3]]}, "legend": null}
    }},
   {"data": {"name": "clabels"},
    "mark": {"type": "text", "font": "Liberation Sans", "fontSize": 22, "fill": "white", "stroke": "white", "strokeWidth": 9, "strokeJoin": "round"},
    "encoding": {"x": {"field": "x", "type": "quantitative", "axis": null}, "y": {"field": "y", "type": "quantitative", "axis": null}, "text": {"field": "t"}}},
   {"data": {"name": "clabels"},
    "mark": {"type": "text", "font": "Liberation Sans", "fontSize": 22, "fill": "#000"},
    "encoding": {"x": {"field": "x", "type": "quantitative", "axis": null}, "y": {"field": "y", "type": "quantitative", "axis": null}, "text": {"field": "t"}}},
   {"data": {"name": "csteps"},
    "mark": {"type": "point", "opacity": 0},
    "encoding": {
     "x": {"field": "x", "type": "quantitative", "axis": {"orient": "top", "values": [120,122,124,126,128,130,132,134,136,138,140,142,144,146,148,150,152,154,156,158,160,162,164,166,168,170,172,174,176,178,180], "labels": false, "grid": false, "title": null, "tickSize": -7}},
     "y": {"field": "y", "type": "quantitative", "axis": {"orient": "right", "values": [0,0.05,0.1,0.15,0.2,0.25,0.3,0.35,0.4,0.45,0.5,0.55,0.6,0.65,0.7,0.75,0.8,0.85,0.9,0.95,1], "labels": false, "grid": false, "title": null, "tickSize": {"condition": {"test": "round(datum.value*100) % 20 === 0", "value": -14}, "value": -7}}}
    }}
  ],
  "resolve": {"axis": {"x": "independent", "y": "independent"}}
 }
 ]
}
]
}
